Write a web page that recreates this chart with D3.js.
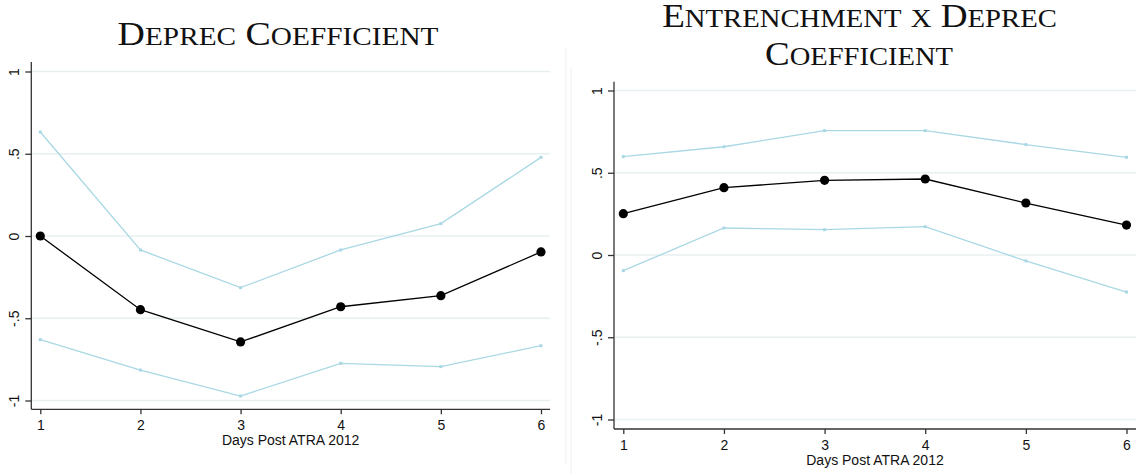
<!DOCTYPE html>
<html>
<head>
<script src="https://d3js.org/d3.v7.min.js"></script>
<style>
  body { margin: 0; background: white; }
  svg { display: block; }
</style>
</head>
<body>
<svg id="chart" width="1136" height="474"></svg>
<script>
    // Data
    var days = [1, 2, 3, 4, 5, 6];
    var yTickValues = [-1, -0.5, 0, 0.5, 1];
    var yTickLabels = ["-1", "-.5", "0", ".5", "1"];

    var deprecCoef  = [0, -0.448, -0.644, -0.430, -0.363, -0.097];
    var deprecUpper = [0.632, -0.085, -0.314, -0.085, 0.075, 0.478];
    var deprecLower = [-0.630, -0.815, -0.973, -0.774, -0.794, -0.667];

    var entrCoef  = [0.251, 0.409, 0.454, 0.462, 0.316, 0.182];
    var entrUpper = [0.598, 0.658, 0.756, 0.756, 0.671, 0.594];
    var entrLower = [-0.095, 0.164, 0.154, 0.172, -0.036, -0.225];

    var svg = d3.select("#chart");
    var ciColor = "#a9d8e4";
    var gridColor = "#e8eff1";
    var axisColor = "#333";

    // faint panel borders
    svg.append("line").attr("x1", 566).attr("x2", 566).attr("y1", 48).attr("y2", 465)
        .attr("stroke", "#f0f0f0").attr("stroke-width", 1);
    svg.append("line").attr("x1", 571).attr("x2", 571).attr("y1", 67).attr("y2", 474)
        .attr("stroke", "#f0f0f0").attr("stroke-width", 1);

    // write a title in small caps, stretched to a target width
    function smallCapsTitle(str, cx, baseline, targetWidth) {
        var t = svg.append("text")
            .attr("text-anchor", "middle")
            .style("font-family", "'Liberation Serif', 'Times New Roman', serif")
            .style("fill", "#111");
        var runs = str.match(/[a-z]+|[^a-z]+/g);
        runs.forEach(function(r) {
            var lower = /[a-z]/.test(r[0]);
            t.append("tspan")
                .style("font-size", lower ? "25.5px" : "33px")
                .text(r.toUpperCase());
        });
        var w = t.node().getComputedTextLength();
        t.attr("transform", "translate(" + cx + "," + baseline + ") scale(" + (targetWidth / w) + ",1)");
    }

    function drawPanel(p) {
        var g = svg.append("g");
        var x = d3.scaleLinear().domain([1, 6]).range([p.x1, p.x6]);
        var y = d3.scaleLinear().domain([-1, 1]).range([p.yMinus1, p.yPlus1]);

        // grid lines
        g.selectAll(".grid")
            .data(yTickValues)
            .enter().append("line")
            .attr("x1", p.left + 1).attr("x2", p.right)
            .attr("y1", function(d) { return y(d); })
            .attr("y2", function(d) { return y(d); })
            .attr("stroke", gridColor)
            .attr("stroke-width", 1.3);

        // y axis
        var yAxis = g.append("g")
            .attr("transform", "translate(" + p.left + ",0)")
            .call(d3.axisLeft(y).tickValues(yTickValues)
                .tickFormat(function(d, i) { return yTickLabels[i]; })
                .tickSize(6).tickPadding(0));
        yAxis.select(".domain").remove();
        yAxis.append("line")
            .attr("x1", 0).attr("x2", 0).attr("y1", p.top).attr("y2", p.bottom)
            .attr("stroke", axisColor).attr("stroke-width", 1.3);
        yAxis.selectAll(".tick line").attr("stroke", axisColor).attr("stroke-width", 1.3);
        yAxis.selectAll(".tick text")
            .attr("x", 0).attr("y", 0)
            .attr("transform", "translate(-12.5,0) rotate(-90)")
            .attr("text-anchor", "middle")
            .attr("dy", 0)
            .style("font-family", "'Liberation Sans', Arial, sans-serif")
            .style("font-size", "14px")
            .style("fill", "#111");

        // x axis
        var xAxis = g.append("g")
            .attr("transform", "translate(0," + p.bottom + ")")
            .call(d3.axisBottom(x).tickValues(days).tickFormat(d3.format("d"))
                .tickSize(5).tickPadding(6));
        xAxis.select(".domain").remove();
        xAxis.append("line")
            .attr("x1", p.left).attr("x2", p.right).attr("y1", 0).attr("y2", 0)
            .attr("stroke", axisColor).attr("stroke-width", 1.3);
        xAxis.selectAll(".tick line").attr("stroke", axisColor).attr("stroke-width", 1.3);
        xAxis.selectAll(".tick text")
            .style("font-family", "'Liberation Sans', Arial, sans-serif")
            .style("font-size", "14px")
            .style("fill", "#111");

        g.append("text")
            .attr("x", (p.left + p.right) / 2)
            .attr("y", p.bottom + 36)
            .attr("text-anchor", "middle")
            .style("font-family", "'Liberation Sans', Arial, sans-serif")
            .style("font-size", "14px")
            .style("fill", "#111")
            .text("Days Post ATRA 2012");

        var line = d3.line()
            .x(function(d, i) { return x(days[i]); })
            .y(function(d) { return y(d); });

        // confidence bounds
        [p.upper, p.lower].forEach(function(series) {
            g.append("path")
                .datum(series)
                .attr("fill", "none")
                .attr("stroke", ciColor)
                .attr("stroke-width", 1.3)
                .attr("d", line);
            g.selectAll(null)
                .data(series)
                .enter().append("rect")
                .attr("x", function(d, i) { return x(days[i]) - 1.5; })
                .attr("y", function(d) { return y(d) - 1.5; })
                .attr("width", 3).attr("height", 3)
                .attr("fill", ciColor);
        });

        // point estimates
        g.append("path")
            .datum(p.coef)
            .attr("fill", "none")
            .attr("stroke", "black")
            .attr("stroke-width", 1.3)
            .attr("d", line);
        g.selectAll(".dot")
            .data(p.coef)
            .enter().append("circle")
            .attr("cx", function(d, i) { return x(days[i]); })
            .attr("cy", function(d) { return y(d); })
            .attr("r", 4.6)
            .attr("fill", "black");
    }

    drawPanel({
        left: 31.3, right: 550, top: 62, bottom: 409.3,
        x1: 40.3, x6: 541, yMinus1: 400.5, yPlus1: 71.5,
        coef: deprecCoef, upper: deprecUpper, lower: deprecLower
    });
    drawPanel({
        left: 614, right: 1136, top: 81.7, bottom: 429,
        x1: 623.3, x6: 1126.5, yMinus1: 419.5, yPlus1: 90.5,
        coef: entrCoef, upper: entrUpper, lower: entrLower
    });

    smallCapsTitle("Deprec Coefficient", 278, 45, 321);
    smallCapsTitle("Entrenchment x Deprec", 859.5, 26.7, 395);
    smallCapsTitle("Coefficient", 859, 65, 188);
</script>
</body>
</html>
